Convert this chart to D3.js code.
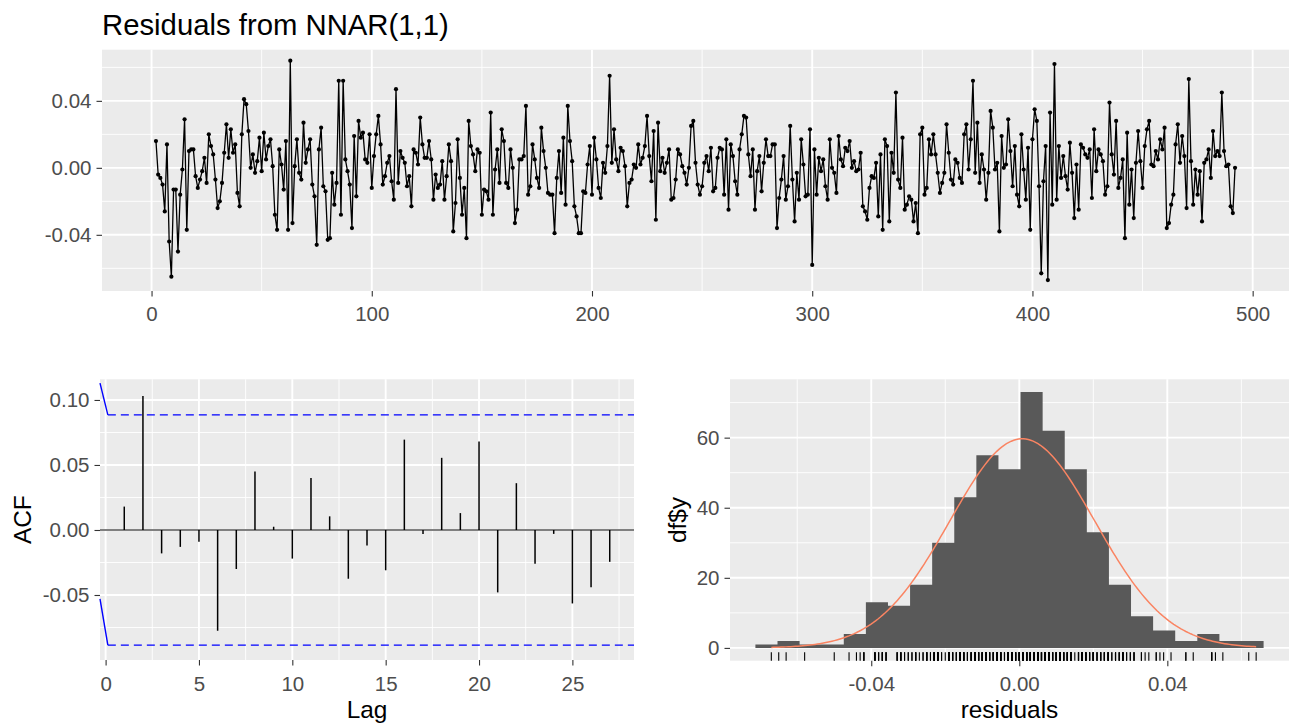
<!DOCTYPE html>
<html lang="en">
<head>
  <meta charset="UTF-8" />
  <title>Residuals from NNAR(1,1)</title>
  <script src="https://d3js.org/d3.v7.min.js"></script>
  <style>
    body { margin: 0; background: #fff; }
  </style>
</head>
<body>
  <svg id="chart" width="1290" height="726"></svg>

  <script>
    // Residuals, in units of 0.001, first value at t = 2
    const residUnit = 0.001;
    const residStart = 2;
    const resid002to058 = [16, -4, -6, -10, -26, 14, -44, -65, -13, -13, -50, -16, -1, 29, -37, 10, 11, 11, -5, -12, -7, -2, 6, -9, 20, 13, 8, -7, -24, -20, -9, 9, 26, 6, 23, 9, 14, -15, -23, 20, 41, 38, 22, 0, 8, -3, 4, 18, -2, 21, 5, 13, 17, 1, -28, -37, 11];
    const resid059to118 = [2, -13, 16, -37, 64, -33, 1, 17, -3, -7, 27, 3, 11, 17, -10, -17, -46, 11, 24, -11, -14, -43, -42, -3, -22, -9, 52, -28, 52, 5, -2, -10, -36, 19, -17, 28, 18, 21, 5, 3, 20, -12, 7, 20, 31, 14, -10, -5, 3, 7, -8, -19, 47, -9, 10, 6, 3, -11, -5, -23];
    const resid119to180 = [11, 9, 2, 30, 14, 6, 6, 16, 5, -19, -4, -12, -10, 4, -19, -5, 14, 4, -38, -21, 17, -6, -28, -12, -42, 28, 13, 8, -2, 11, 9, -28, -13, -14, -19, 33, -28, -1, 11, -9, 23, 16, -9, -12, 11, 0, -33, -25, 5, 5, 7, 37, -16, -11, 14, 5, -6, -12, 24, 10, 0, -15];
    const resid181to242 = [-16, -16, -39, -6, 10, -15, 18, -22, 37, 16, 4, -23, -29, -39, -39, -14, -15, 2, 13, -16, 18, 5, -12, -18, 3, -3, 13, 55, 3, 23, 5, -2, 12, 10, 1, -23, -9, -7, 2, 0, 14, 2, 6, 13, 31, 7, -8, 22, -31, 27, -2, 6, -3, 3, 11, -19, -18, -7, 11, 8, 1, -3];
    const resid243to303 = [-10, 0, 25, 28, 3, -10, -16, -11, 3, 7, -2, 12, -14, -12, 6, 12, 11, -16, 17, -25, 14, 7, -8, -16, 11, 20, 31, 30, 8, -5, 11, -25, -2, 7, -14, 3, 17, 7, 7, 14, 14, -36, -18, -7, 7, -19, -11, 25, -7, -32, -3, -19, 17, 2, -17, -16, 23, -58, 11, -16, 6];
    const resid304to364 = [-2, 5, -11, -19, 17, 0, -3, -15, 19, 5, 1, 12, 10, 16, 0, 4, -2, -1, 9, -23, -26, -31, -12, -5, -6, 3, -29, 8, -37, 17, 13, -32, 9, -3, 45, -7, -12, 18, -25, -22, -17, -19, -32, -21, -39, 20, 24, -16, -12, 17, 8, 20, 8, -3, -15, -9, -3, 26, 9, -7, -10];
    const resid365to426 = [5, 3, -6, -9, 20, 26, -1, 17, 52, -3, 27, -9, 8, -1, -19, -3, 34, 24, -1, 3, -38, 19, 0, 2, 29, 10, -11, 13, -16, -23, 20, -1, -19, 12, -37, 17, 35, 28, -11, -63, -8, 13, -67, 33, -22, 62, -19, 13, -6, 7, -5, -13, 15, -3, -30, 2, -25, 14, 12, 8, 6, 11];
    const resid427to492 = [-18, 23, -2, 11, 8, 4, -16, -11, 39, 8, -4, 28, -12, -6, 5, -42, 21, -22, -1, -30, 3, 22, 4, -12, 13, 23, 28, 2, 1, 10, 5, 17, 11, 24, -36, -33, -22, -16, 14, 26, 3, 19, 7, -24, 53, 4, -22, -1, -16, -2, -32, 3, 5, 11, -6, 22, 7, 10, 7, 45, 10, 1, 2, -23, -27, 0];

    // ACF of the residuals
    const acfLags = [1, 2, 3, 4, 5, 6, 7, 8, 9, 10, 11, 12, 13, 14, 15, 16, 17, 18, 19, 20, 21, 22, 23, 24, 25, 26, 27];
    const acfValues = [0.018, 0.103, -0.018, -0.013, -0.009, -0.0775, -0.030, 0.045, 0.0025, -0.022, 0.040, 0.0105, -0.0375, -0.012, -0.031, 0.0695, -0.003, 0.0555, 0.013, 0.068, -0.048, 0.036, -0.026, -0.003, -0.0565, -0.044, -0.0245];
    const acfLimit = 0.0885;

    // histogram of residuals and the fitted normal curve
    const histCounts = [1, 2, 1, 1, 4, 13, 12, 18, 30, 43, 55, 51, 73, 62, 51, 33, 18, 9, 5, 2, 4, 2, 2];
    const histBinStart = -0.0713;
    const histBinWidth = 0.00597;
    const normMean = 0.0008;
    const normSd = 0.0196;

    // tick labels
    const topXTicks = [0, 100, 200, 300, 400, 500];
    const topYTicks = [-0.04, 0.00, 0.04];
    const acfXTicks = [0, 5, 10, 15, 20, 25];
    const acfYTicks = [-0.05, 0.00, 0.05, 0.10];
    const histXTicks = [-0.04, 0.00, 0.04];
    const histYTicks = [0, 20, 40, 60];

    const residuals = [].concat(resid002to058, resid059to118, resid119to180, resid181to242,
      resid243to303, resid304to364, resid365to426, resid427to492).map(v => v * residUnit);
    const resData = residuals.map((v, i) => ({ t: residStart + i, v: v }));

    const FONT = '"Liberation Sans", Arial, Helvetica, sans-serif';
    const tickFont = 20.5, axisTitleFont = 24.4, titleFont = 29.3;
    const svg = d3.select("#chart");

    const expand = ([a, b]) => [a - (b - a) * 0.05, b + (b - a) * 0.05];
    const fmt2 = d => d.toFixed(2);

    function minorBreaks(ticks, domain) {
      const step = ticks[1] - ticks[0];
      const lo = Math.min(domain[0], domain[1]), hi = Math.max(domain[0], domain[1]);
      const out = [];
      for (let k = -3; k <= ticks.length + 3; k++) {
        const v = ticks[0] + (k - 0.5) * step;
        if (v > lo && v < hi) out.push(v);
      }
      return out;
    }

    function drawPanel(box, x, y, xTicks, yTicks, xFmt, yFmt) {
      const g = svg.append("g");
      g.append("rect")
        .attr("x", box.left).attr("y", box.top)
        .attr("width", box.right - box.left).attr("height", box.bottom - box.top)
        .attr("fill", "#EBEBEB");

      // minor grid
      g.selectAll(".mx").data(minorBreaks(xTicks, x.domain())).join("line")
        .attr("x1", d => x(d)).attr("x2", d => x(d))
        .attr("y1", box.top).attr("y2", box.bottom)
        .attr("stroke", "#fff").attr("stroke-width", 0.9);
      g.selectAll(".my").data(minorBreaks(yTicks, y.domain())).join("line")
        .attr("y1", d => y(d)).attr("y2", d => y(d))
        .attr("x1", box.left).attr("x2", box.right)
        .attr("stroke", "#fff").attr("stroke-width", 0.9);
      // major grid
      g.selectAll(".Mx").data(xTicks).join("line")
        .attr("x1", d => x(d)).attr("x2", d => x(d))
        .attr("y1", box.top).attr("y2", box.bottom)
        .attr("stroke", "#fff").attr("stroke-width", 1.9);
      g.selectAll(".My").data(yTicks).join("line")
        .attr("y1", d => y(d)).attr("y2", d => y(d))
        .attr("x1", box.left).attr("x2", box.right)
        .attr("stroke", "#fff").attr("stroke-width", 1.9);

      // axes
      const styleAxis = a => {
        a.select(".domain").remove();
        a.selectAll(".tick line").attr("stroke", "#333333").attr("stroke-width", 1.1);
        a.selectAll(".tick text").attr("fill", "#4D4D4D")
          .attr("font-size", tickFont).attr("font-family", FONT);
      };
      svg.append("g")
        .attr("transform", `translate(0,${box.bottom})`)
        .call(d3.axisBottom(x).tickValues(xTicks).tickFormat(xFmt).tickSize(5.5))
        .call(styleAxis)
        .call(a => a.selectAll(".tick text").attr("dy", null).attr("y", box.xLabelOffset));
      svg.append("g")
        .attr("transform", `translate(${box.left},0)`)
        .call(d3.axisLeft(y).tickValues(yTicks).tickFormat(yFmt).tickSize(5.5).tickPadding(5))
        .call(styleAxis);
      return g;
    }

    // ---------- top: residual series ----------
    const boxTop = { left: 102, right: 1289, top: 49.7, bottom: 291, xLabelOffset: 29.5 };
    const xTop = d3.scaleLinear().domain(expand(d3.extent(resData, d => d.t))).range([boxTop.left, boxTop.right]);
    const yTop = d3.scaleLinear().domain(expand(d3.extent(residuals))).range([boxTop.bottom, boxTop.top]);
    const gTop = drawPanel(boxTop, xTop, yTop, topXTicks, topYTicks, d => d, fmt2);

    gTop.append("path")
      .datum(resData)
      .attr("fill", "none")
      .attr("stroke", "#000")
      .attr("stroke-width", 1.3)
      .attr("stroke-linejoin", "round")
      .attr("d", d3.line().x(d => xTop(d.t)).y(d => yTop(d.v)));
    gTop.append("g").selectAll("circle").data(resData).join("circle")
      .attr("cx", d => xTop(d.t)).attr("cy", d => yTop(d.v))
      .attr("r", 2.1).attr("fill", "#000");

    svg.append("text")
      .attr("x", 102).attr("y", 35)
      .attr("font-family", FONT).attr("font-size", titleFont).attr("fill", "#000")
      .text("Residuals from NNAR(1,1)");

    // ---------- bottom left: ACF ----------
    const boxAcf = { left: 100, right: 634, top: 379.3, bottom: 660, xLabelOffset: 31 };
    const xAcf = d3.scaleLinear().domain(expand(d3.extent(acfLags))).range([boxAcf.left, boxAcf.right]);
    const yAcf = d3.scaleLinear().domain([-0.1, 0.1159]).range([boxAcf.bottom, boxAcf.top]);
    const gAcf = drawPanel(boxAcf, xAcf, yAcf, acfXTicks, acfYTicks, d => d, fmt2);

    gAcf.append("line")
      .attr("x1", boxAcf.left).attr("x2", boxAcf.right)
      .attr("y1", yAcf(0)).attr("y2", yAcf(0))
      .attr("stroke", "#000").attr("stroke-width", 1.2);
    gAcf.selectAll(".bar").data(acfLags).join("line")
      .attr("x1", d => xAcf(d)).attr("x2", d => xAcf(d))
      .attr("y1", yAcf(0)).attr("y2", (d, i) => yAcf(acfValues[i]))
      .attr("stroke", "#000").attr("stroke-width", 1.5);

    // confidence limits
    const ciStartLag = 0.12;
    [acfLimit, -acfLimit].forEach(v => {
      gAcf.append("line")
        .attr("x1", xAcf(ciStartLag)).attr("x2", boxAcf.right)
        .attr("y1", yAcf(v)).attr("y2", yAcf(v))
        .attr("stroke", "#0000FF").attr("stroke-width", 1.3)
        .attr("stroke-dasharray", "8,5");
    });
    const ciLead = [[0.113, acfLimit], [-0.053, -acfLimit]];
    ciLead.forEach(([a, b]) => {
      gAcf.append("line")
        .attr("x1", boxAcf.left).attr("x2", xAcf(ciStartLag))
        .attr("y1", yAcf(a)).attr("y2", yAcf(b))
        .attr("stroke", "#0000FF").attr("stroke-width", 1.4);
    });

    svg.append("text")
      .attr("transform", `translate(31,${(boxAcf.top + boxAcf.bottom) / 2}) rotate(-90)`)
      .attr("text-anchor", "middle")
      .attr("font-family", FONT).attr("font-size", axisTitleFont).attr("fill", "#000")
      .text("ACF");
    svg.append("text")
      .attr("x", (boxAcf.left + boxAcf.right) / 2).attr("y", 718)
      .attr("text-anchor", "middle")
      .attr("font-family", FONT).attr("font-size", axisTitleFont).attr("fill", "#000")
      .text("Lag");

    // ---------- bottom right: histogram ----------
    const bins = histCounts.map((c, i) => ({
      x0: histBinStart + i * histBinWidth,
      x1: histBinStart + (i + 1) * histBinWidth,
      c: c
    }));
    const boxHist = { left: 730, right: 1289, top: 379.3, bottom: 660.7, xLabelOffset: 30.5 };
    const xHist = d3.scaleLinear().domain(expand([bins[0].x0, bins[bins.length - 1].x1])).range([boxHist.left, boxHist.right]);
    const yHist = d3.scaleLinear().domain(expand([0, d3.max(histCounts)])).range([boxHist.bottom, boxHist.top]);
    const gHist = drawPanel(boxHist, xHist, yHist, histXTicks, histYTicks, fmt2, d => d);

    // bars drawn as one outline so no seams show between neighbours
    const barArea = d3.area()
      .curve(d3.curveStepAfter)
      .x(d => xHist(d.x))
      .y0(yHist(0))
      .y1(d => yHist(d.c));
    const barSteps = bins.map(b => ({ x: b.x0, c: b.c }))
      .concat([{ x: bins[bins.length - 1].x1, c: bins[bins.length - 1].c }]);
    gHist.append("path")
      .datum(barSteps)
      .attr("fill", "#595959")
      .attr("d", barArea);

    // fitted normal density, scaled to counts, over the range of the residuals
    const scaleN = residuals.length * histBinWidth;
    const [rMin, rMax] = d3.extent(residuals);
    const curve = d3.range(0, 201).map(k => {
      const xv = rMin + (rMax - rMin) * k / 200;
      const z = (xv - normMean) / normSd;
      return { x: xv, y: scaleN * Math.exp(-0.5 * z * z) / (normSd * Math.sqrt(2 * Math.PI)) };
    });
    gHist.append("path")
      .datum(curve)
      .attr("fill", "none")
      .attr("stroke", "#FA8462")
      .attr("stroke-width", 1.5)
      .attr("d", d3.line().x(d => xHist(d.x)).y(d => yHist(d.y)));

    // rug
    const rugLen = (boxHist.bottom - boxHist.top) * 0.03;
    gHist.append("g").selectAll("line").data(residuals).join("line")
      .attr("x1", d => xHist(d)).attr("x2", d => xHist(d))
      .attr("y1", boxHist.bottom).attr("y2", boxHist.bottom - rugLen)
      .attr("stroke", "#000").attr("stroke-width", 1.1);

    svg.append("text")
      .attr("transform", `translate(686,${(boxHist.top + boxHist.bottom) / 2}) rotate(-90)`)
      .attr("text-anchor", "middle")
      .attr("font-family", FONT).attr("font-size", axisTitleFont).attr("fill", "#000")
      .text("df$y");
    svg.append("text")
      .attr("x", (boxHist.left + boxHist.right) / 2).attr("y", 718)
      .attr("text-anchor", "middle")
      .attr("font-family", FONT).attr("font-size", axisTitleFont).attr("fill", "#000")
      .text("residuals");
  </script>
</body>
</html>
